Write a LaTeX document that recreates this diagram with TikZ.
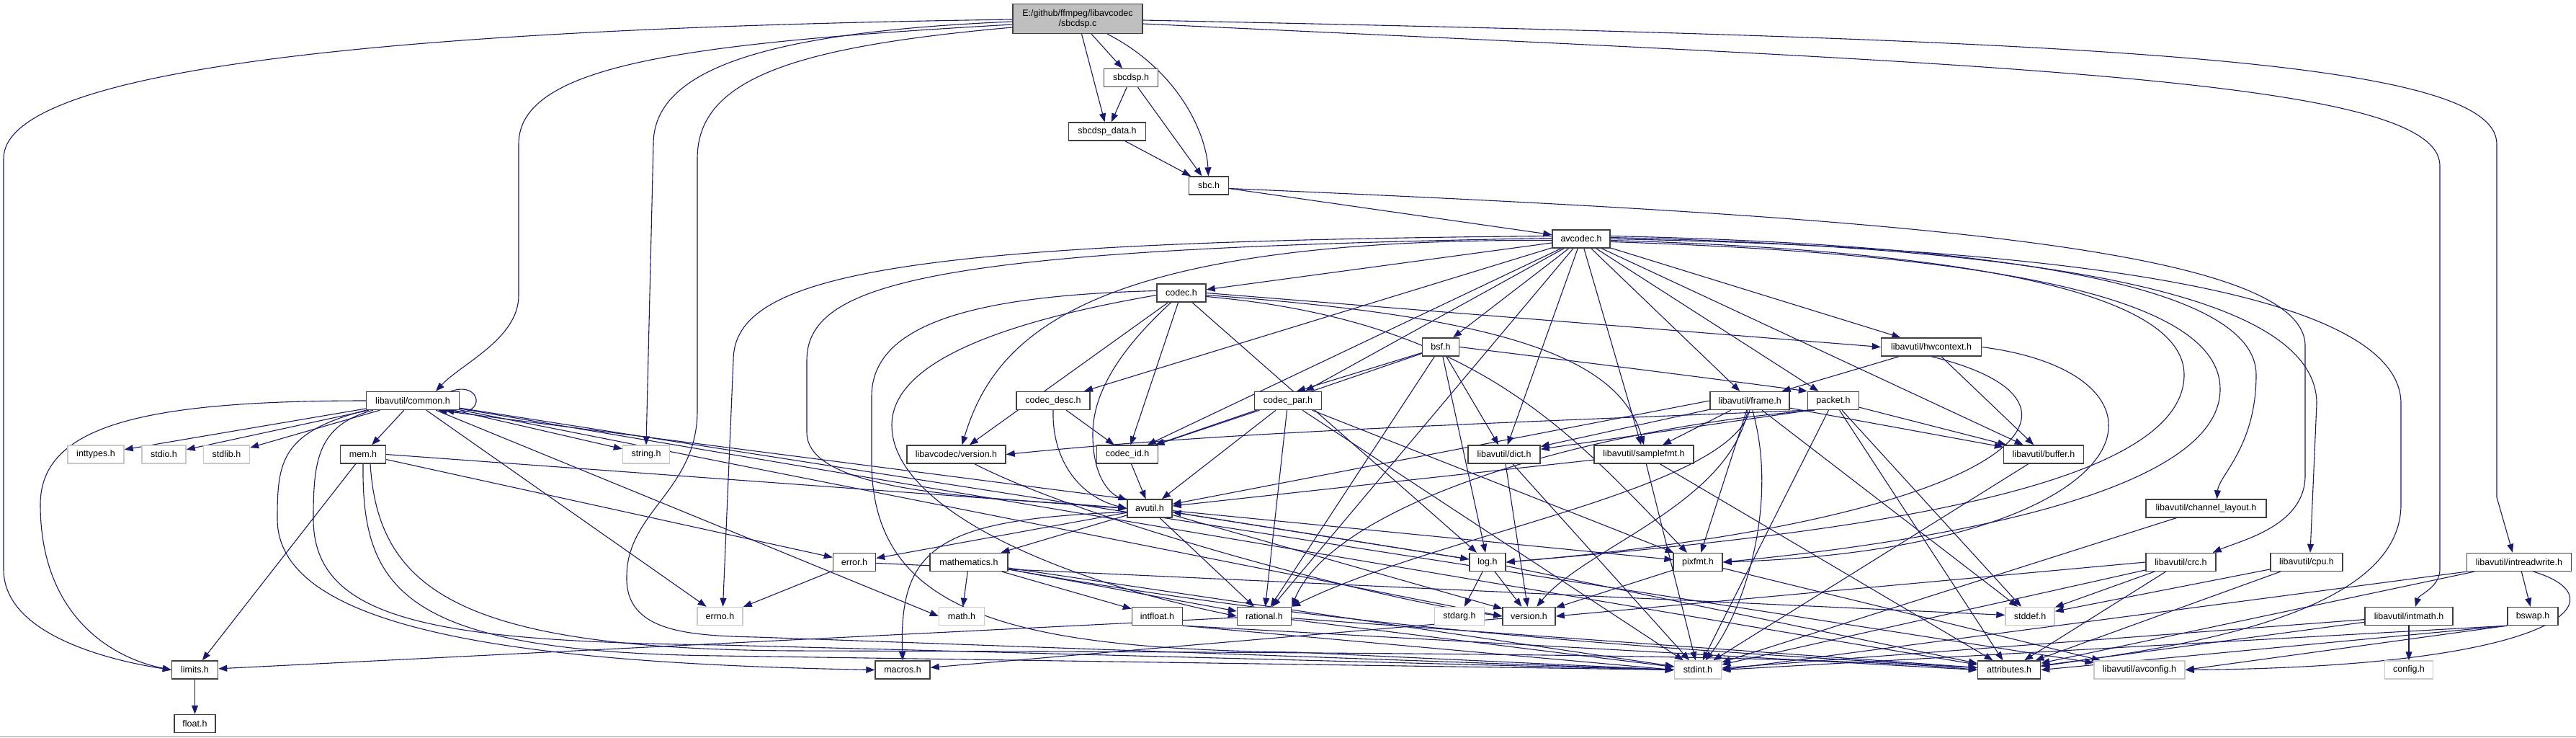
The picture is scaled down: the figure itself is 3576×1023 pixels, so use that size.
\documentclass[tikz,border=0pt]{standalone}
\usepackage{fontspec}
\setmainfont{Liberation Sans}
\usetikzlibrary{arrows.meta,backgrounds}
\definecolor{edgeblue}{HTML}{191970}
\definecolor{rootgray}{HTML}{BFBFBF}
\definecolor{sysgray}{HTML}{C8C8C8}
\definecolor{boxline}{HTML}{404040}
\tikzset{
  hdrbox/.style={
    rectangle, draw=boxline, fill=white, line width=1.4pt,
    minimum width=#1pt, minimum height=25pt,
    font=\fontsize{12.5}{14}\selectfont, inner sep=1pt
  },
  hdrbox/.default=60,
  sysbox/.style={
    hdrbox=#1, draw=sysgray
  },
  sysbox/.default=60,
  rootbox/.style={
    hdrbox=#1, fill=rootgray, minimum height=41pt, align=center
  },
  dep/.style={
    -{Triangle[length=12pt,width=9pt]}, line width=1.1pt, color=edgeblue
  },
}

\begin{document}
\begin{tikzpicture}[x=1pt,y=-1pt]
  \useasboundingbox (0,0) rectangle (3576,1023);

  \node[rootbox=180] (root) at (1496,26) {E:/github/ffmpeg/libavcodec\\/sbcdsp.c};
  \node[hdrbox=75] (sbcdsph) at (1570,108) {sbcdsp.h};
  \node[hdrbox=107] (sbcdspdata) at (1537,182.5) {sbcdsp\_data.h};
  \node[hdrbox=55] (sbch) at (1678,257.5) {sbc.h};
  \node[hdrbox=80] (avcodec) at (2195,331.5) {avcodec.h};
  \node[hdrbox=68] (codec) at (1640,406.5) {codec.h};
  \node[hdrbox=51] (bsf) at (2000,481.5) {bsf.h};
  \node[hdrbox=139] (hwcontext) at (2681,481.5) {libavutil/hwcontext.h};
  \node[hdrbox=129] (common) at (573,556) {libavutil/common.h};
  \node[hdrbox=102] (codecdesc) at (1462,556) {codec\_desc.h};
  \node[hdrbox=93] (codecpar) at (1788,556) {codec\_par.h};
  \node[hdrbox=110] (frame) at (2429,556) {libavutil/frame.h};
  \node[hdrbox=71] (packet) at (2545,556) {packet.h};
  \node[sysbox=78] (inttypes) at (133,630.5) {inttypes.h};
  \node[sysbox=61] (stdio) at (227.5,630.5) {stdio.h};
  \node[sysbox=64] (stdlib) at (314.5,630.5) {stdlib.h};
  \node[hdrbox=63] (mem) at (504,630.5) {mem.h};
  \node[sysbox=65] (string) at (897,630.5) {string.h};
  \node[hdrbox=137] (lcversion) at (1327.5,630.5) {libavcodec/version.h};
  \node[hdrbox=85] (codecid) at (1565,630.5) {codec\_id.h};
  \node[hdrbox=100] (dict) at (2088,630.5) {libavutil/dict.h};
  \node[hdrbox=138] (samplefmt) at (2282,630.5) {libavutil/samplefmt.h};
  \node[hdrbox=111] (buffer) at (2837,630.5) {libavutil/buffer.h};
  \node[hdrbox=62] (avutil) at (1596,705.5) {avutil.h};
  \node[hdrbox=167] (chlayout) at (3062.5,705.5) {libavutil/channel\_layout.h};
  \node[hdrbox=59] (error) at (1186,780) {error.h};
  \node[hdrbox=108] (mathematics) at (1345,780) {mathematics.h};
  \node[hdrbox=50] (log) at (2065,780) {log.h};
  \node[hdrbox=68] (pixfmt) at (2357,780) {pixfmt.h};
  \node[hdrbox=97] (crc) at (3027.5,780) {libavutil/crc.h};
  \node[hdrbox=100] (cpu) at (3202,780) {libavutil/cpu.h};
  \node[hdrbox=145] (intreadwrite) at (3497,780) {libavutil/intreadwrite.h};
  \node[sysbox=63] (errno) at (999.5,855) {errno.h};
  \node[sysbox=63] (math) at (1335,855) {math.h};
  \node[hdrbox=70] (intfloat) at (1606.5,855) {intfloat.h};
  \node[hdrbox=75] (rational) at (1755,855) {rational.h};
  \node[sysbox=69] (stdarg) at (2026,855) {stdarg.h};
  \node[hdrbox=73] (version) at (2122.5,855) {version.h};
  \node[sysbox=68] (stddef) at (2818,855) {stddef.h};
  \node[hdrbox=122] (intmath) at (3344,855) {libavutil/intmath.h};
  \node[hdrbox=70] (bswap) at (3516,855) {bswap.h};
  \node[hdrbox=64] (limits) at (270.5,929.5) {limits.h};
  \node[hdrbox=76] (macros) at (1253,929.5) {macros.h};
  \node[sysbox=65] (stdint) at (2357,929.5) {stdint.h};
  \node[hdrbox=87] (attributes) at (2789,929.5) {attributes.h};
  \node[sysbox=126] (avconfig) at (2970,929.5) {libavutil/avconfig.h};
  \node[sysbox=67] (config) at (3344,929.5) {config.h};
  \node[hdrbox=57] (float) at (270.5,1004) {float.h};

  \begin{scope}[on background layer]
  % sbcdsp.c
  \draw[dep] ([yshift=-1pt]root.west) .. controls (500,40) and (5,100) .. (5,220)
    -- (5,790) .. controls (5,880) and (150,916) .. (limits.west);
  \draw[dep] ([yshift=-8pt]root.west) .. controls (950,60) and (720,90) .. (720,200)
    -- (720,410) .. controls (720,470) and (640,505) .. ([xshift=32pt]common.north);
  \draw[dep] ([yshift=-4pt]root.west) .. controls (1050,45) and (907,100) .. (907,200)
    -- (string.north);
  \draw[dep] ([yshift=-12pt]root.west) .. controls (1100,65) and (968,110) .. (968,220)
    -- (968,570) .. controls (968,680) and (870,710) .. (870,800)
    .. controls (868,875) and (950,882) .. (1050,884) -- (stdint.west);
  \draw[dep] (root) -- (sbcdsph);
  \draw[dep] (root) -- (sbcdspdata);
  \draw[dep] (root) .. controls (1640,100) and (1675,190) .. (sbch);
  \draw[dep] ([yshift=-2pt]root.east) .. controls (2900,55) and (3466,80) .. (3466,200)
    -- (3466,690) -- ([xshift=-9pt]intreadwrite.north);
  \draw[dep] ([yshift=-7pt]root.east) .. controls (2800,90) and (3387,110) .. (3387,230)
    -- (3387,790) .. controls (3387,815) and (3358,825) .. ([xshift=9pt]intmath.north);

  % sbcdsp.h, sbcdsp_data.h, sbc.h
  \draw[dep] (sbcdsph) -- (sbcdspdata);
  \draw[dep] (sbcdsph) -- (sbch);
  \draw[dep] (sbcdspdata) -- (sbch);
  \draw[dep] (sbch) -- (avcodec);
  \draw[dep] ([yshift=-4pt]sbch.east) .. controls (2600,300) and (3200,340) .. (3200,480)
    -- (3200,660) .. controls (3200,730) and (3110,750) .. ([xshift=-5pt]crc.north east);

  % avcodec.h
  \draw[dep] ([yshift=4pt]avcodec.west) .. controls (1250,335) and (1018,380) .. (1018,500)
    -- ([xshift=4pt]errno.north);
  \draw[dep] ([yshift=1pt]avcodec.west) .. controls (1300,345) and (1120,390) .. (1120,500)
    -- (1120,600) .. controls (1120,690) and (1400,690) .. (avutil.west);
  \draw[dep] ([yshift=-2pt]avcodec.west) .. controls (1500,330) and (1380,470)
    .. ([xshift=8pt]lcversion.north);
  \draw[dep] (avcodec) -- (codec);
  \draw[dep] (avcodec) -- (codecdesc);
  \draw[dep] (avcodec) -- (codecid);
  \draw[dep] (avcodec) -- (codecpar);
  \draw[dep] (avcodec) -- (rational);
  \draw[dep] (avcodec) -- (bsf);
  \draw[dep] (avcodec) -- (dict);
  \draw[dep] (avcodec) -- (samplefmt);
  \draw[dep] (avcodec) -- (frame);
  \draw[dep] (avcodec) -- (packet);
  \draw[dep] (avcodec) -- (hwcontext);
  \draw[dep] (avcodec) -- (buffer);
  \draw[dep] ([yshift=4pt]avcodec.east) .. controls (2800,340) and (3132,400) .. (3132,520)
    .. controls (3132,620) and (3080,660) .. ([xshift=15pt]chlayout.north);
  \draw[dep] ([yshift=2pt]avcodec.east) .. controls (2900,345) and (3216,420) .. (3216,560)
    -- ([xshift=5pt]cpu.north);
  \draw[dep] (avcodec.east) .. controls (2950,345) and (3333,420) .. (3333,560)
    -- (3333,700) .. controls (3333,860) and (3000,900) .. ([yshift=5pt]attributes.east);
  \draw[dep] ([yshift=-2pt]avcodec.east) .. controls (2800,350) and (3032,420) .. (3032,520)
    .. controls (3032,690) and (2500,745) .. (log.east);
  \draw[dep] ([yshift=-4pt]avcodec.east) .. controls (2850,355) and (3082,430) .. (3082,540)
    .. controls (3082,700) and (2600,760) .. (pixfmt.east);

  % codec.h
  \draw[dep] ([yshift=3pt]codec.west) .. controls (1350,410) and (1210,450) .. (1210,550)
    -- (1210,640) .. controls (1210,850) and (1400,900) .. (1800,905) -- (stdint.west);
  \draw[dep] ([yshift=-3pt]codec.west) .. controls (1400,445) and (1238,500) .. (1238,590)
    .. controls (1238,700) and (1450,800) .. (rational.west);
  \draw[dep] (codec) .. controls (1560,480) and (1518,540) .. (1517,600)
    .. controls (1516,660) and (1540,685) .. (avutil);
  \draw[dep] (codec) -- (codecid);
  \draw[dep] (codec) -- (lcversion);
  \draw[dep] (codec) -- (log);
  \draw[dep] (codec.east) -- (hwcontext.west);
  \draw[dep] ([yshift=-3pt]codec.east) .. controls (2100,440) and (2250,500) .. (samplefmt.north);
  \draw[dep] ([yshift=-5pt]codec.east) .. controls (2050,445) and (2180,600)
    .. ([xshift=-15pt]pixfmt.north);

  % bsf.h
  \draw[dep] (bsf) -- ([xshift=12pt]codecpar.north);
  \draw[dep] (bsf) -- (codecid);
  \draw[dep] (bsf) -- (dict);
  \draw[dep] (bsf) -- (log);
  \draw[dep] (bsf) -- (rational);
  \draw[dep] (bsf.east) .. controls (2300,515) and (2450,535) .. (packet.north west);

  % codec_desc.h, codec_id.h, codec_par.h
  \draw[dep] (codecdesc) -- (codecid);
  \draw[dep] (codecdesc.south) .. controls (1460,640) and (1500,690) .. (avutil.west);
  \draw[dep] (codecid) -- (avutil);
  \draw[dep] (codecpar) -- (codecid);
  \draw[dep] (codecpar) -- (avutil);
  \draw[dep] (codecpar) -- (rational);
  \draw[dep] (codecpar) -- (pixfmt);
  \draw[dep] (codecpar) -- (stdint);
  \draw[dep] (lcversion) .. controls (1500,720) and (1900,830) .. (version.west);

  % packet.h
  \draw[dep] (packet.south west) .. controls (2000,590) and (1700,600) .. (lcversion.east);
  \draw[dep] ([xshift=4pt]packet.south west) -- (dict);
  \draw[dep] ([xshift=10pt]packet.south west) .. controls (2200,595) and (1850,700)
    .. (rational.north east);
  \draw[dep] (packet) -- (buffer);
  \draw[dep] (packet) -- (stddef);
  \draw[dep] (packet) -- (stdint);
  \draw[dep] (packet) -- (attributes);

  % libavutil/frame.h
  \draw[dep] (frame.west) -- (avutil);
  \draw[dep] (frame) -- (dict);
  \draw[dep] (frame) -- (samplefmt);
  \draw[dep] (frame) -- (pixfmt);
  \draw[dep] (frame) -- (buffer);
  \draw[dep] (frame) -- (stddef);
  \draw[dep] (frame.south) .. controls (2400,680) and (2000,740) .. (rational.north east);
  \draw[dep] (frame) .. controls (2400,700) and (2200,760) .. (version);
  \draw[dep] (frame) .. controls (2470,700) and (2420,850) .. (stdint);

  % libavutil/hwcontext.h
  \draw[dep] (hwcontext) -- (frame);
  \draw[dep] (hwcontext) -- (buffer);
  \draw[dep] (hwcontext.south) .. controls (2950,560) and (2800,720) .. (log.east);
  \draw[dep] (hwcontext.east) .. controls (3050,520) and (2990,760) .. (pixfmt.east);

  % dict, samplefmt, buffer, channel_layout
  \draw[dep] (dict) -- (version);
  \draw[dep] (dict) -- (stdint);
  \draw[dep] (samplefmt) -- (avutil);
  \draw[dep] (samplefmt) -- (stdint);
  \draw[dep] (samplefmt) -- (attributes);
  \draw[dep] (buffer) -- (stdint);
  \draw[dep] (chlayout) -- (stdint);

  % libavutil/common.h
  \draw[dep] ([xshift=-12pt]common.north east) .. controls (668,528) and (676,578)
    .. ([xshift=-20pt]common.south east);
  \draw[dep] (common) -- (inttypes);
  \draw[dep] (common) -- (stdio);
  \draw[dep] (common) -- (stdlib);
  \draw[dep] (common) -- (mem);
  \draw[dep] (common) -- (string);
  \draw[dep] (common) -- (errno);
  \draw[dep] (common) -- (math.west);
  \draw[dep] (common) -- (version.west);
  \draw[dep] (common) -- (attributes);
  \draw[dep] (common) -- (avconfig);
  \draw[dep] (common.west) .. controls (200,556) and (56,590) .. (56,700)
    .. controls (56,850) and (150,912) .. (limits.west);
  \draw[dep] (common.south west) .. controls (390,600) and (385,640) .. (385,720)
    .. controls (385,870) and (700,920) .. (macros.west);
  \draw[dep] ([xshift=10pt]common.south west) .. controls (440,590) and (435,640) .. (435,720)
    .. controls (435,860) and (600,890) .. (1000,895) -- (stdint.west);

  % mem.h
  \draw[dep] (mem) -- (limits);
  \draw[dep] (mem.east) -- (avutil.west);
  \draw[dep] (mem) -- (error);
  \draw[dep] (mem.south) .. controls (502,820) and (560,905) .. (1000,910) -- (stdint.west);
  \draw[dep] ([xshift=10pt]mem.south) .. controls (525,820) and (640,900) .. (1100,903)
    .. controls (2000,905) and (2550,910) .. (attributes.west);

  % avutil.h
  \draw[dep] (avutil.north west) -- ([xshift=-30pt]common.south east);
  \draw[dep] (avutil) -- (error);
  \draw[dep] (avutil) -- (mathematics);
  \draw[dep] (avutil) -- (rational);
  \draw[dep] (avutil) -- (version);
  \draw[dep] (avutil) -- (log);
  \draw[dep] (avutil) -- (pixfmt);
  \draw[dep] ([yshift=-5pt]avutil.west) .. controls (1300,720) and (1248,760) .. (macros.north);

  % error.h, mathematics.h, intfloat.h, rational.h
  \draw[dep] (error) -- (errno);
  \draw[dep] (error) -- (stddef);
  \draw[dep] (mathematics) -- (math);
  \draw[dep] (mathematics) -- (intfloat);
  \draw[dep] (mathematics) -- (rational);
  \draw[dep] (mathematics) -- (stdint);
  \draw[dep] (mathematics) .. controls (1900,880) and (2400,905) .. (attributes);
  \draw[dep] (intfloat.south east) -- (stdint.west);
  \draw[dep] (intfloat.south east) -- (attributes.west);
  \draw[dep] (rational) -- (limits);
  \draw[dep] (rational) -- (stdint);
  \draw[dep] (rational) -- (attributes);

  % log.h, pixfmt.h, version.h
  \draw[dep] (log) -- (stdarg);
  \draw[dep] (log) -- (version);
  \draw[dep] (log) -- (attributes);
  \draw[dep] (log) -- (avutil);
  \draw[dep] (pixfmt) -- (version);
  \draw[dep] (pixfmt) -- (avconfig);
  \draw[dep] (version) -- (macros);

  % crc, cpu, intmath, intreadwrite, bswap, limits
  \draw[dep] (crc.west) -- (version.east);
  \draw[dep] (crc) -- (stddef);
  \draw[dep] (crc) -- (stdint);
  \draw[dep] (crc) -- (attributes);
  \draw[dep] (cpu) -- (stddef);
  \draw[dep] (cpu) -- (attributes);
  \draw[dep] (intmath) -- (config);
  \draw[dep] (intmath) -- (stdint);
  \draw[dep] (intmath) -- (attributes);
  \draw[dep] (intreadwrite) -- (bswap);
  \draw[dep] (intreadwrite.south west) -- (stdint.east);
  \draw[dep] (intreadwrite) -- (attributes);
  \draw[dep] ([xshift=20pt]intreadwrite.south) .. controls (3640,830) and (3560,925)
    .. (avconfig.east);
  \draw[dep] (bswap.south west) -- (stdint.east);
  \draw[dep] (bswap.south west) -- (avconfig.east);
  \draw[dep] (bswap.south west) -- (attributes.east);
  \draw[dep] (limits) -- (float);
  \end{scope}

  \draw[sysgray, line width=2pt] (0,1022) -- (3576,1022);
\end{tikzpicture}
\end{document}
